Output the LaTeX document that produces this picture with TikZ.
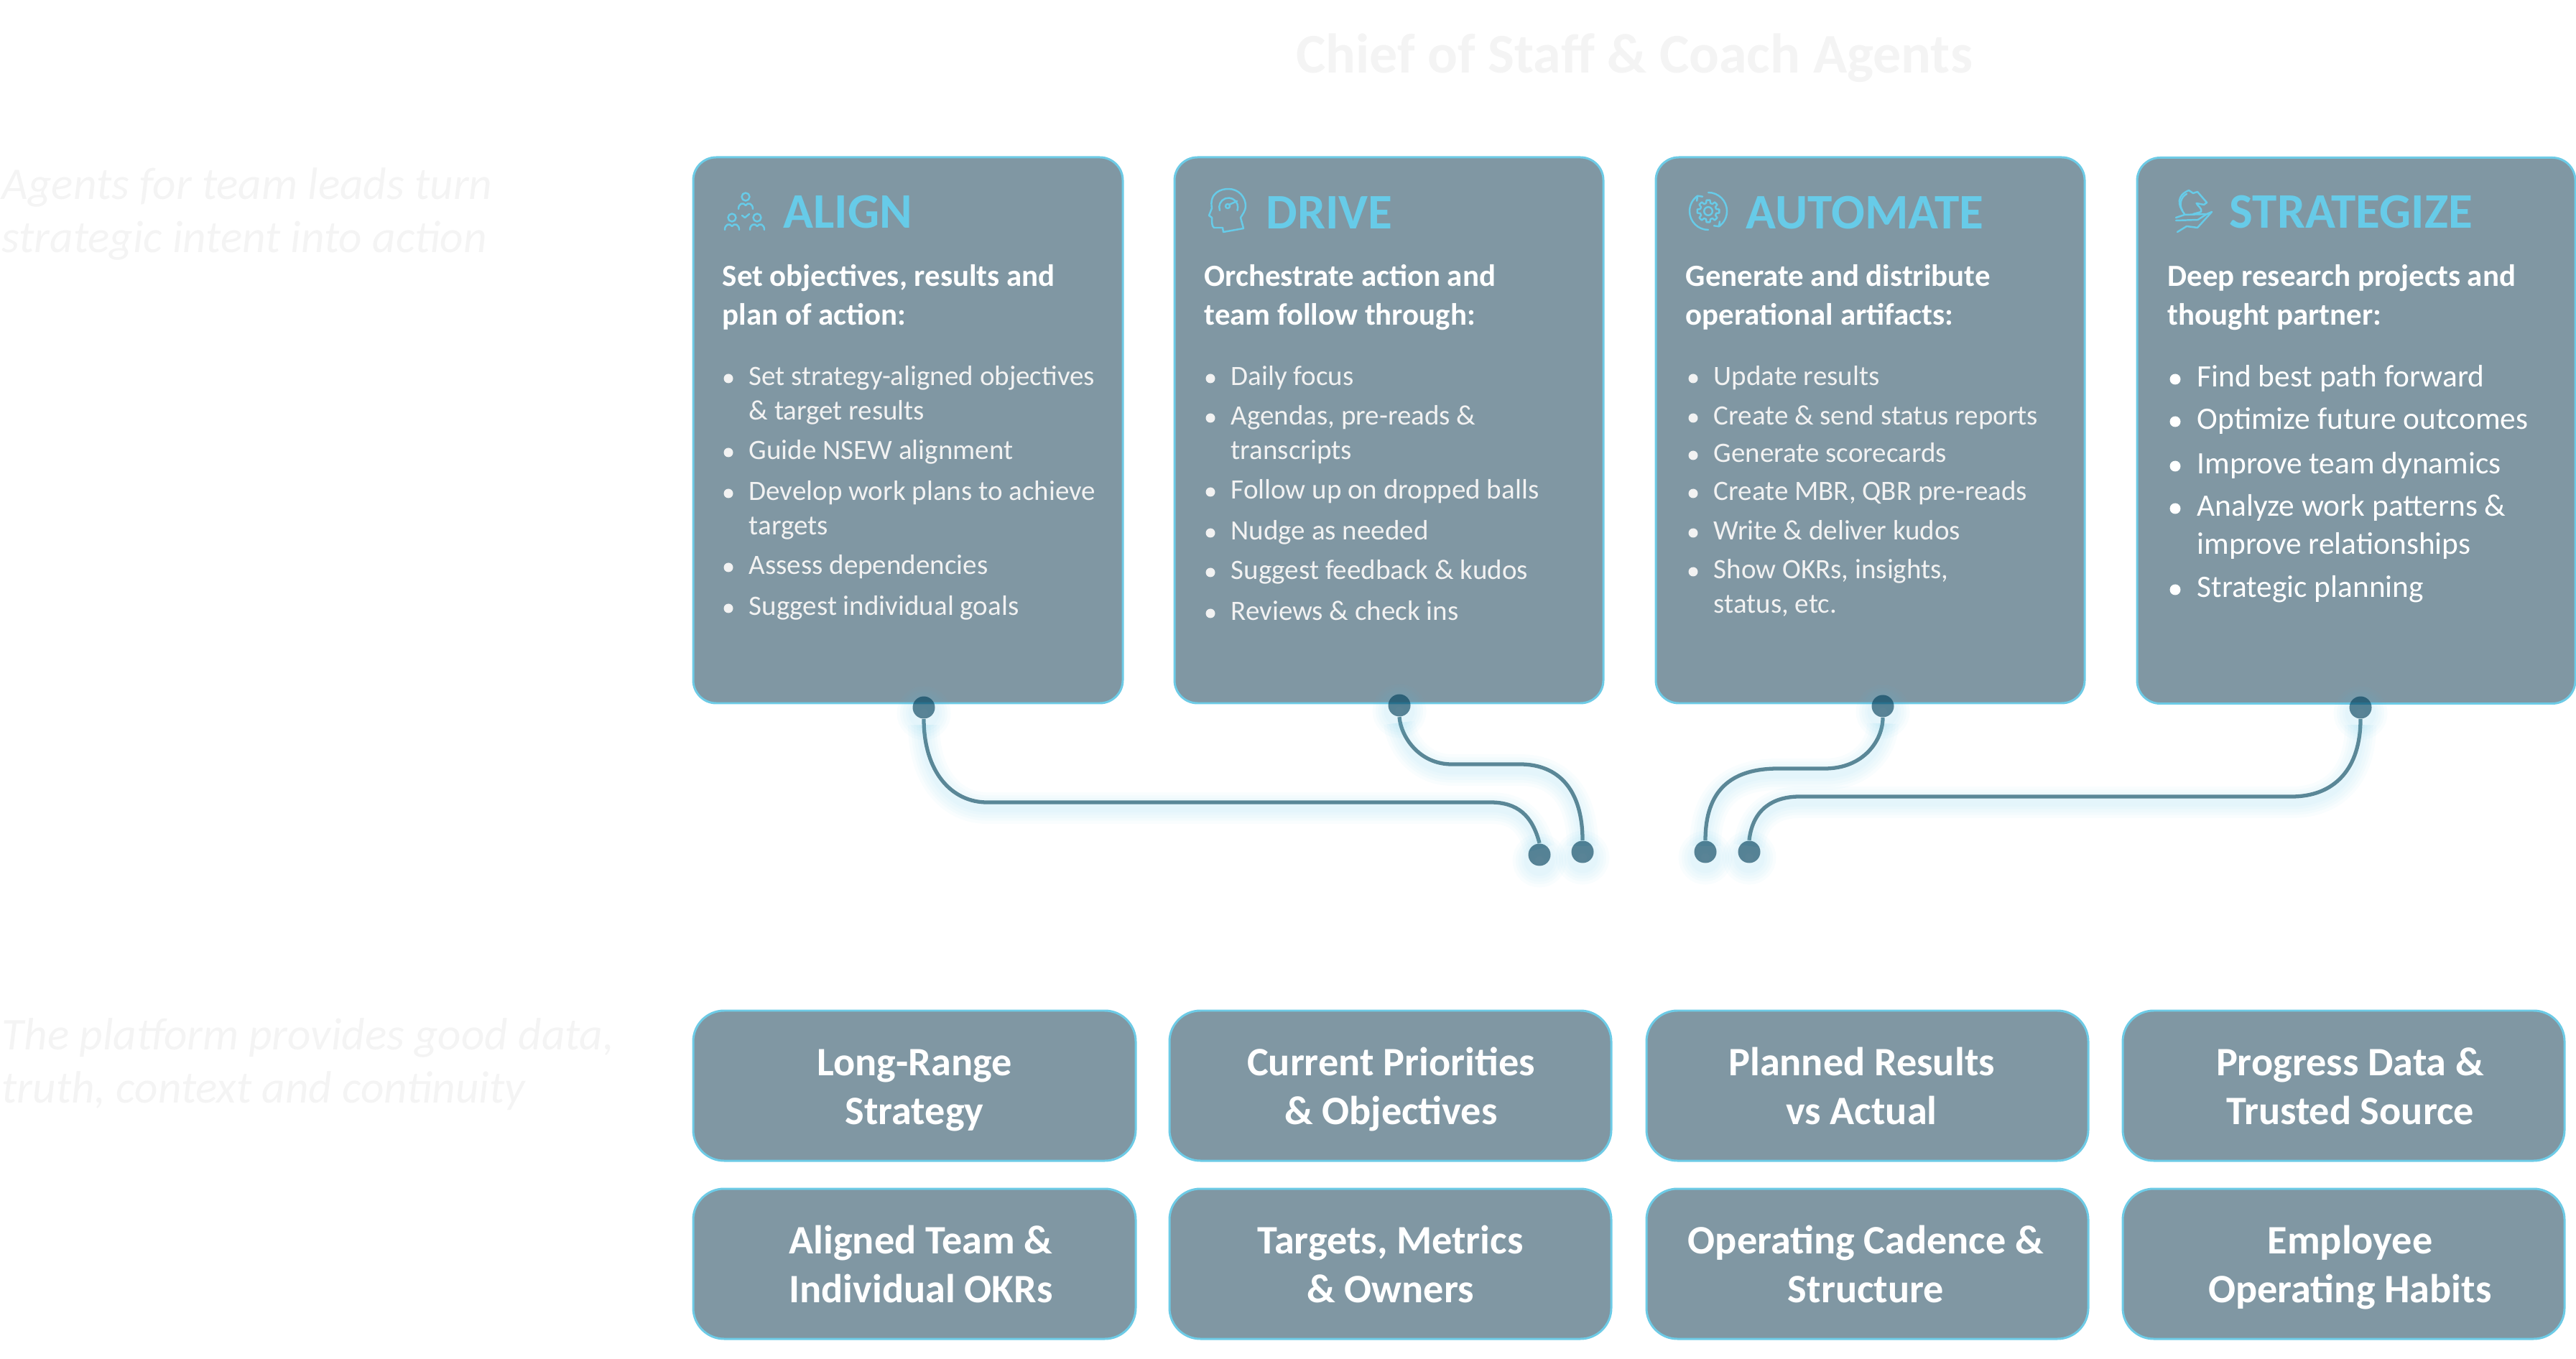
\documentclass[tikz,border=0pt]{standalone}
\usepackage{fontspec}
\setmainfont{Carlito}
\usetikzlibrary{backgrounds}
\definecolor{cardfill}{HTML}{8097A3}
\definecolor{cardline}{HTML}{6DCBE6}
\definecolor{titleblue}{HTML}{67CBE8}
\definecolor{wirecol}{HTML}{5A8797}
\definecolor{dotcol}{HTML}{023F5A}
\definecolor{glowcol}{HTML}{5CC4E5}
\definecolor{ghost}{HTML}{F4F4F4}
\definecolor{softwhite}{HTML}{F2F2F2}
\tikzset{
  cardbox/.style={draw=cardline,fill=cardfill,line width=0.85pt,rounded corners=0.32cm,
    minimum height=7.6cm,inner sep=0pt},
  basebox/.style={draw=cardline,fill=cardfill,line width=0.85pt,rounded corners=0.43cm,
    minimum height=2.09cm,inner sep=0pt},
  basetext/.style={text=white,align=center,inner sep=0pt,yshift=-0.06cm,
    font=\fontsize{16}{19.35}\selectfont\bfseries},
  cardtitle/.style={anchor=base west,inner sep=0pt,text=titleblue,
    font=\fontsize{19.7}{25}\selectfont\bfseries},
  headline/.style={anchor=base west,inner sep=0pt,text=white,
    font=\fontsize{12.2}{15}\selectfont\bfseries},
  itemline/.style={anchor=base west,inner sep=0pt,text=softwhite,
    font=\fontsize{11.1}{14}\selectfont},
  itemlarge/.style={anchor=base west,inner sep=0pt,text=white,
    font=\fontsize{12.34}{15}\selectfont},
  bulletdot/.style={circle,fill=softwhite,inner sep=0pt,minimum size=0.13cm},
  ghostside/.style={anchor=base west,inner sep=0pt,text=ghost,
    font=\fontsize{18}{24}\selectfont\itshape},
  ghosttop/.style={anchor=base,inner sep=0pt,text=ghost,
    font=\fontsize{22.2}{28}\selectfont\bfseries},
  icon/.style={draw=titleblue,line width=0.7pt,line cap=round,line join=round},
  glow/.style={
    preaction={draw=glowcol,draw opacity=.035,fill=none,line width=12.5pt,transform canvas={yshift=-0.08cm}},
    preaction={draw=glowcol,draw opacity=.035,fill=none,line width=10pt,transform canvas={yshift=-0.08cm}},
    preaction={draw=glowcol,draw opacity=.035,fill=none,line width=8pt,transform canvas={yshift=-0.08cm}},
    preaction={draw=glowcol,draw opacity=.035,fill=none,line width=5.5pt,transform canvas={yshift=-0.08cm}},
    preaction={draw=glowcol,draw opacity=.035,fill=none,line width=3.4pt,transform canvas={yshift=-0.08cm}}},
  wire/.style={glow,draw=wirecol,line width=1.5pt},
  wiredot/.style={glow,circle,fill=dotcol,fill opacity=.63,inner sep=0pt,minimum size=0.31cm},
  person/.pic={
    \draw[icon] (0,0) circle (0.055);
    \draw[icon] (-0.10,-0.17) .. controls (-0.10,-0.09) and (-0.03,-0.07) .. (0,-0.12)
      .. controls (0.03,-0.07) and (0.10,-0.09) .. (0.10,-0.17);
  }
}
\begin{document}
\begin{tikzpicture}
\useasboundingbox (0,0) rectangle (35.86,-18.92);

\node[ghosttop] (toptitle) at (22.75,-1.02) {Chief of Staff \& Coach Agents};
\node[ghostside] (sidea) at (0.02,-2.78) {Agents for team leads turn};
\node[ghostside] (sideb) at (0.02,-3.52) {strategic intent into action};
\node[ghostside] (sidec) at (0.02,-14.61) {The platform provides good data,};
\node[ghostside] (sided) at (0.02,-15.35) {truth, context and continuity};

% agent cards
\node[cardbox,minimum width=5.98cm] (align) at (12.64,-5.99) {};
\node[cardbox,minimum width=5.97cm] (drive) at (19.335,-5.99) {};
\node[cardbox,minimum width=5.97cm] (automate) at (26.035,-5.99) {};
\node[cardbox,minimum width=6.10cm] (strategize) at (32.80,-5.995) {};

\node[cardtitle] (aligntitle) at (10.90,-3.18) {ALIGN};
\node[cardtitle] (drivetitle) at (17.62,-3.19) {DRIVE};
\node[cardtitle] (automatetitle) at (24.30,-3.19) {AUTOMATE};
\node[cardtitle] (strategizetitle) at (31.03,-3.18) {STRATEGIZE};

\foreach \nm/\xx/\yy/\txt in {
  ha/10.05/3.99/{Set objectives, results and},
  hb/10.05/4.53/{plan of action:},
  hc/16.76/3.99/{Orchestrate action and},
  hd/16.76/4.53/{team follow through:},
  he/23.46/3.99/{Generate and distribute},
  hf/23.46/4.53/{operational artifacts:},
  hg/30.17/3.99/{Deep research projects and},
  hh/30.17/4.53/{thought partner:}}
  \node[headline] (\nm) at (\xx,-\yy) {\txt};

\foreach \nm/\xx/\yy/\txt in {
  aa/10.42/5.37/{Set strategy-aligned objectives},
  ab/10.42/5.85/{\& target results},
  ac/10.42/6.40/{Guide NSEW alignment},
  ad/10.42/6.97/{Develop work plans to achieve},
  ae/10.42/7.45/{targets},
  af/10.42/8.00/{Assess dependencies},
  ag/10.42/8.57/{Suggest individual goals},
  da/17.13/5.37/{Daily focus},
  db/17.13/5.92/{Agendas, pre-reads \&},
  dc/17.13/6.40/{transcripts},
  dd/17.13/6.95/{Follow up on dropped balls},
  de/17.13/7.52/{Nudge as needed},
  df/17.13/8.07/{Suggest feedback \& kudos},
  dg/17.13/8.64/{Reviews \& check ins},
  ma/23.85/5.37/{Update results},
  mb/23.85/5.92/{Create \& send status reports},
  mc/23.85/6.44/{Generate scorecards},
  md/23.85/6.97/{Create MBR, QBR pre-reads},
  me/23.85/7.52/{Write \& deliver kudos},
  mf/23.85/8.06/{Show OKRs, insights,},
  mg/23.85/8.54/{status, etc.}}
  \node[itemline] (\nm) at (\xx,-\yy) {\txt};

\foreach \nm/\yy/\txt in {
  sa/5.39/{Find best path forward},
  sb/5.98/{Optimize future outcomes},
  sc/6.60/{Improve team dynamics},
  sd/7.19/{Analyze work patterns \&},
  se/7.72/{improve relationships},
  sf/8.32/{Strategic planning}}
  \node[itemlarge] (\nm) at (30.58,-\yy) {\txt};

\foreach \nm in {aa,ac,ad,af,ag,da,db,dd,de,df,dg,ma,mb,mc,md,me,mf}
  \node[bulletdot] (b\nm) at ([shift={(-0.28,0.10)}]\nm.base west) {};
\foreach \nm in {sa,sb,sc,sd,sf}
  \node[bulletdot,minimum size=0.15cm,fill=white] (b\nm) at ([shift={(-0.30,0.11)}]\nm.base west) {};

% icons
\pic at (10.38,-2.74) {person};
\pic at (10.19,-3.03) {person};
\pic at (10.54,-3.03) {person};
\draw[icon] (10.33,-3.00) -- (10.37,-3.03) -- (10.43,-2.98);

\draw[icon] (17.03,-3.23) -- (17.02,-3.17) -- (16.90,-3.17) .. controls (16.87,-3.15) and (16.87,-3.10) .. (16.87,-3.03)
  -- (16.83,-3.00) -- (16.87,-2.90) .. controls (16.83,-2.68) and (17.00,-2.63) .. (17.10,-2.63)
  .. controls (17.25,-2.63) and (17.34,-2.75) .. (17.34,-2.87) .. controls (17.34,-2.93) and (17.30,-2.98) .. (17.27,-3.03)
  -- (17.31,-3.18) -- cycle;
\draw[icon] (16.98,-2.93) arc (200:-20:0.13);
\draw[icon] (17.09,-2.87) circle (0.03) (17.11,-2.85) -- (17.22,-2.80);

\draw[icon] (23.78,-2.68) arc (90:-55:0.26) -- ++(-0.07,0.01) ++(0.07,-0.01) -- ++(0.01,0.07);
\draw[icon] (23.78,-3.20) arc (270:125:0.26) -- ++(0.07,-0.01) ++(-0.07,0.01) -- ++(-0.01,-0.07);
\draw[icon] ([shift={(23.78,-2.94)}]105:0.115)
  \foreach \aa in {0,45,...,315}{
    -- ([shift={(23.78,-2.94)}]99-\aa:0.155) -- ([shift={(23.78,-2.94)}]81-\aa:0.155)
    -- ([shift={(23.78,-2.94)}]75-\aa:0.115) -- ([shift={(23.78,-2.94)}]60-\aa:0.115) };
\draw[icon] (23.78,-2.94) circle (0.058);

\draw[icon] (30.41,-2.98) .. controls (30.31,-2.85) and (30.30,-2.72) .. (30.47,-2.65)
  -- (30.53,-2.69) -- (30.59,-2.67) -- (30.72,-2.82) -- (30.68,-2.85) -- (30.575,-2.83)
  .. controls (30.60,-2.88) and (30.66,-2.90) .. (30.64,-2.95) -- (30.53,-2.98);
\draw[icon] (30.29,-3.03) -- (30.41,-2.99) -- (30.72,-2.98) -- (30.79,-2.95) -- (30.59,-3.17) -- (30.44,-3.15) -- (30.31,-3.23);
\draw[icon] (30.29,-3.07) -- (30.595,-3.06) -- (30.72,-2.98);
\draw[icon] (30.38,-2.93) .. controls (30.33,-2.85) and (30.36,-2.74) .. (30.44,-2.70);

% platform boxes
\foreach \nm/\xx/\yy/\ww/\dx/\txt in {
  lrs/12.73/15.115/6.16/0/{\strut Long-Range\\\strut Strategy},
  cpo/19.355/15.115/6.15/0.01/{\strut Current Priorities\\\strut \& Objectives},
  prs/25.995/15.115/6.15/-0.08/{\strut Planned Results\\\strut vs Actual},
  pdt/32.625/15.115/6.15/0.09/{\strut Progress Data \&\\\strut Trusted Source},
  atm/12.73/17.595/6.16/0.09/{\strut Aligned Team \&\\\strut Individual OKRs},
  tmo/19.355/17.595/6.15/0/{\strut Targets, Metrics\\\strut \& Owners},
  occ/25.995/17.595/6.15/-0.02/{\strut Operating Cadence \&\\\strut Structure},
  eoh/32.625/17.595/6.15/0.09/{\strut Employee\\\strut Operating Habits}}
{
  \node[basebox,minimum width=\ww cm] (\nm) at (\xx,-\yy) {};
  \node[basetext] (\nm text) at ([xshift=\dx cm]\nm.center) {\txt};
}

% connectors
\node[wiredot] (aligndot) at (12.86,-9.85) {};
\node[wiredot] (drivedot) at (19.48,-9.82) {};
\node[wiredot] (automatedot) at (26.21,-9.83) {};
\node[wiredot] (strategizedot) at (32.86,-9.85) {};
\node[wiredot] (inalign) at (21.43,-11.90) {};
\node[wiredot] (indrive) at (22.03,-11.86) {};
\node[wiredot] (inautomate) at (23.74,-11.86) {};
\node[wiredot] (instrategize) at (24.35,-11.86) {};
\begin{scope}[on background layer]
\draw[wire] (aligndot.south) .. controls (12.86,-10.75) and (13.25,-11.17) .. (13.74,-11.17)
  -- (20.75,-11.17) .. controls (21.12,-11.17) and (21.33,-11.35) .. (inalign.north);
\draw[wire] (drivedot.south) .. controls (19.50,-10.25) and (19.75,-10.64) .. (20.21,-10.64)
  -- (21.16,-10.64) .. controls (21.70,-10.64) and (22.03,-11.00) .. (indrive.north);
\draw[wire] (automatedot.south) .. controls (26.21,-10.30) and (25.95,-10.70) .. (25.40,-10.70)
  -- (24.75,-10.70) .. controls (24.10,-10.70) and (23.74,-11.00) .. (inautomate.north);
\draw[wire] (strategizedot.south) .. controls (32.86,-10.70) and (32.50,-11.09) .. (31.90,-11.09)
  -- (25.05,-11.09) .. controls (24.70,-11.09) and (24.40,-11.25) .. (instrategize.north);
\end{scope}
\end{tikzpicture}
\end{document}
